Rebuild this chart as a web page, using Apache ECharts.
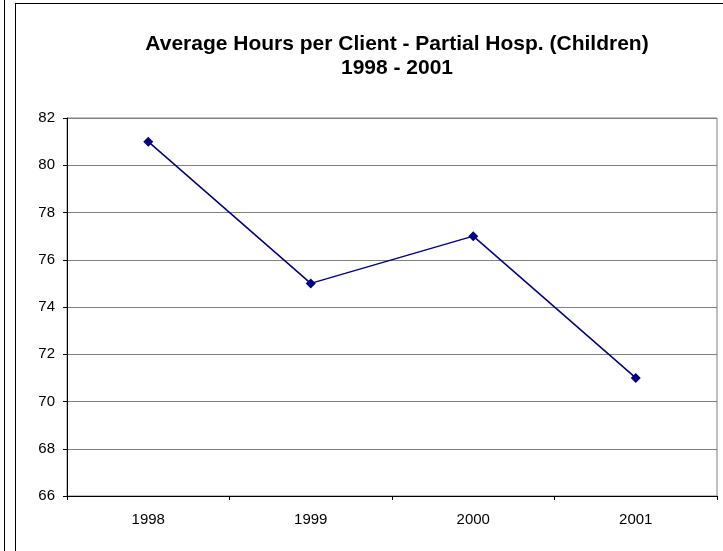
<!DOCTYPE html>
<html>
<head>
<meta charset="UTF-8">
<title>Average Hours per Client</title>
<script type="text/javascript" src="https://cdn.jsdelivr.net/npm/echarts@6/dist/echarts.min.js"></script>
<style>
  body{margin:0;padding:0;background:#fff}
  #wrap{position:relative;width:723px;height:551px;overflow:hidden}
  #main{position:absolute;left:0;top:0;width:723px;height:551px}
  .edge{position:absolute;left:4px;top:0;width:1px;height:551px;background:#000}
  .box{position:absolute;left:15px;top:3px;width:760px;height:600px;border-left:1px solid #000;border-top:1px solid #000}
</style>
</head>
<body>
<div id="wrap">
  <div class="edge"></div>
  <div class="box"></div>
  <div id="main"></div>
</div>
<script type="text/javascript">
  var years = ['1998', '1999', '2000', '2001'];
  var avgHours = [81, 75, 77, 71];
  var yMin = 66, yMax = 82, yStep = 2;

  var myChart = echarts.init(document.getElementById('main'));

  var option = {
    animation: false,
    title: {
      text: 'Average Hours per Client - Partial Hosp. (Children)\n1998 - 2001',
      left: 392,
      textAlign: 'center',
      top: 27,
      textStyle: {
        fontFamily: 'Liberation Sans, Arial, sans-serif',
        fontSize: 21,
        fontWeight: 'bold',
        color: '#000',
        lineHeight: 24
      }
    },
    grid: {
      left: 67,
      right: 6,
      top: 118,
      bottom: 55,
      show: true,
      borderColor: '#808080',
      borderWidth: 1
    },
    xAxis: {
      type: 'category',
      data: years,
      boundaryGap: true,
      axisLine: {lineStyle: {color: '#000', width: 1}},
      axisTick: {show: true, length: 4, alignWithLabel: false, lineStyle: {color: '#000'}},
      axisLabel: {
        margin: 16,
        fontFamily: 'Liberation Sans, Arial, sans-serif',
        fontSize: 15,
        color: '#000'
      },
      splitLine: {show: false}
    },
    yAxis: {
      type: 'value',
      min: yMin,
      max: yMax,
      interval: yStep,
      axisLine: {show: true, lineStyle: {color: '#000', width: 1}},
      axisTick: {show: true, length: 4, lineStyle: {color: '#000'}},
      axisLabel: {
        margin: 12,
        fontFamily: 'Liberation Sans, Arial, sans-serif',
        fontSize: 15,
        color: '#000'
      },
      splitLine: {show: true, lineStyle: {color: '#808080', width: 1}}
    },
    series: [
      {
        name: 'Average Hours',
        type: 'line',
        data: avgHours,
        symbol: 'diamond',
        symbolSize: 10,
        itemStyle: {color: '#000080'},
        lineStyle: {color: '#000080', width: 1.5}
      }
    ]
  };

  myChart.setOption(option);
</script>
</body>
</html>
